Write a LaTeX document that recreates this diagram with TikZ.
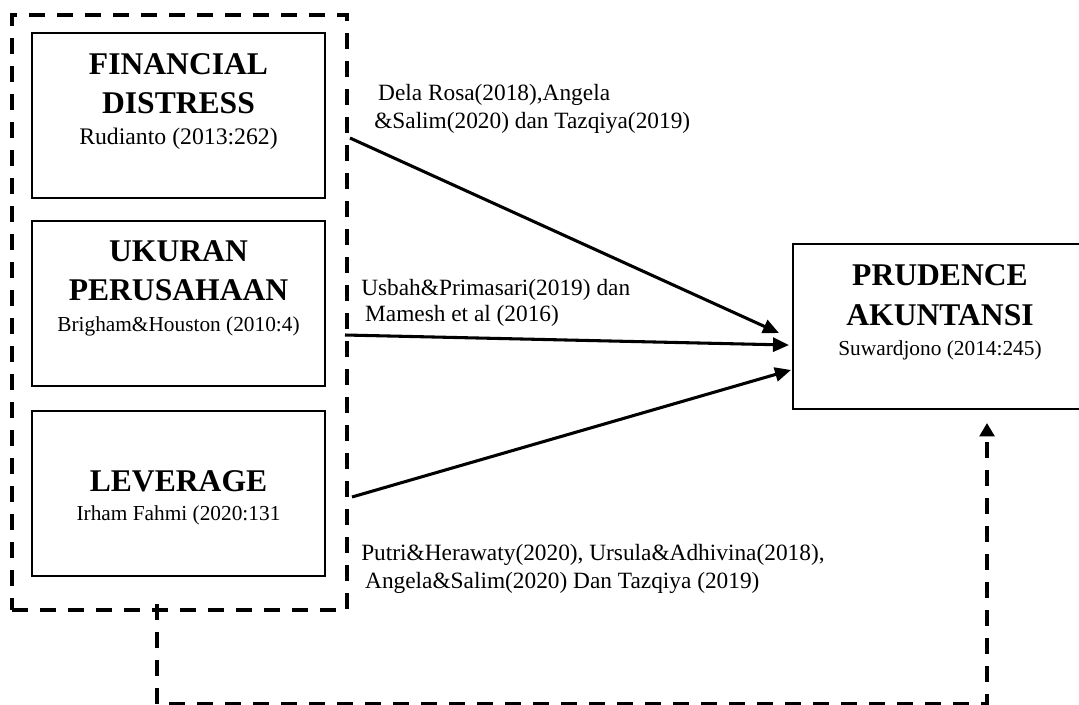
\documentclass[tikz,border=0pt]{standalone}
\usepackage{fontspec}
\setmainfont{Liberation Serif}
\usetikzlibrary{arrows.meta}

\tikzset{
  varbox/.style={draw, line width=1.5pt, minimum width=219.75pt, minimum height=123.75pt, inner sep=0pt},
  groupbox/.style={draw, line width=3pt, dash pattern=on 12pt off 9pt, minimum width=251.25pt, minimum height=446.25pt, inner sep=0pt},
  judul/.style={font=\fontsize{23.7}{29.5}\selectfont\bfseries, align=center, inner sep=0pt, anchor=north},
  sumber/.style={font=\fontsize{16}{19}\selectfont, inner sep=0pt, anchor=base},
  ket/.style={font=\fontsize{17.5}{21}\selectfont, align=left, anchor=west, inner sep=0pt},
  panah/.style={line width=2.3pt, -{Triangle[length=12pt,width=10.5pt]}},
  putus/.style={line width=3pt, dash pattern=on 12pt off 9pt, -{Triangle[length=10pt,width=11pt]}}
}

\begin{document}
\begin{tikzpicture}[x=0.75pt,y=-0.75pt]
    \useasboundingbox (0,0) rectangle (1079,704);
    \node[groupbox] (kelompok) at (179.5,312.5) {};
    \node[varbox] (fd) at (178.5,115.5) {};
    \node[varbox] (up) at (178.5,303) {};
    \node[varbox] (lev) at (178.5,493) {};
    \node[varbox, minimum width=220.5pt] (pa) at (940,326.5) {};
    \node[judul] (fdjudul) at ([yshift=-15.75pt]fd.north) {FINANCIAL\\DISTRESS};
    \node[sumber, font=\fontsize{17.8}{19}\selectfont] (fdsumber) at ([yshift=-22.5pt]fdjudul.south) {Rudianto (2013:262)};
    \node[judul] (upjudul) at ([yshift=-15.5pt]up.north) {UKURAN\\PERUSAHAAN};
    \node[sumber] (upsumber) at ([yshift=-22.5pt]upjudul.south) {Brigham\&Houston (2010:4)};
    \node[judul] (levjudul) at ([yshift=-45.5pt]lev.north) {LEVERAGE};
    \node[sumber] (levsumber) at ([yshift=-21pt]levjudul.south) {Irham Fahmi (2020:131};
    \node[judul] (pajudul) at ([yshift=-16.25pt]pa.north) {PRUDENCE\\AKUNTANSI};
    \node[sumber] (pasumber) at ([yshift=-22.5pt]pajudul.south) {Suwardjono (2014:245)};
    \node[ket] (dela) at (374,109) {\,Dela Rosa(2018),Angela\\\&Salim(2020) dan Tazqiya(2019)};
    \node[ket, font=\fontsize{17.5}{19.5}\selectfont] (usbah) at (361,303) {Usbah\&Primasari(2019) dan\\\,Mamesh et al (2016)};
    \node[ket] (putri) at (361,569) {Putri\&Herawaty(2020), Ursula\&Adhivina(2018),\\\,Angela\&Salim(2020) Dan Tazqiya (2019)};
    \coordinate (fdkeluar) at (350,138);
    \coordinate (upkeluar) at (345,335);
    \coordinate (levkeluar) at (352,497);
    \draw[panah] (fdkeluar) -- ([xshift=-9.75pt,yshift=-4.9pt]pa.west);
    \draw[panah] (upkeluar) -- ([xshift=-2.25pt,yshift=-13.9pt]pa.west);
    \draw[panah] (levkeluar) -- ([xshift=-0.75pt,yshift=-32.6pt]pa.west);
    \draw[putus] ([xshift=-16.9pt,yshift=6pt]kelompok.south) -- ++(0,100) -| ([xshift=35.25pt,yshift=-9.75pt]pa.south);
\end{tikzpicture}
\end{document}
